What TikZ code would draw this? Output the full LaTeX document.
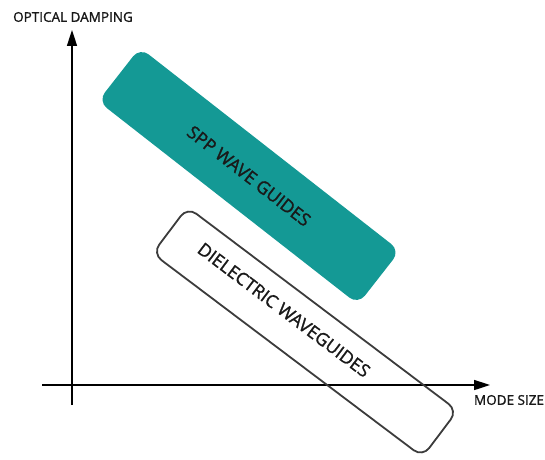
\documentclass[tikz,border=0pt]{standalone}
\usepackage{fontspec}
\setmainfont{Open Sans}
\newfontfamily\labelfont{Open Sans}[FakeBold=1.3]
\usetikzlibrary{arrows.meta}
\definecolor{sppteal}{RGB}{20,153,149}
\definecolor{boxgray}{RGB}{60,60,60}

\begin{document}
\begin{tikzpicture}[x=1pt, y=1pt,
            guide/.style={rectangle, rounded corners=11pt, inner sep=0pt, text=black!90},
            spp/.style={guide, fill=sppteal, minimum width=330pt, minimum height=68pt, rotate=-38},
            diel/.style={guide, draw=boxgray, line width=1.8pt, minimum width=338pt, minimum height=58pt, rotate=-37},
            axis/.style={line width=1.6pt, -{Triangle[length=16pt, width=10pt]}},
            axlabel/.style={text=black!90, font=\labelfont\fontsize{13.5}{15}\selectfont},
            guidelabel/.style={font=\labelfont\fontsize{17.8}{20}\selectfont}
        ]
            \useasboundingbox (0,0) rectangle (545,459);

            % Axes
            \coordinate (ybot) at (72,54);
            \coordinate (ytop) at (72,429);
            \coordinate (xleft) at (42,74);
            \coordinate (xright) at (490,74);
            \draw[axis] (ybot) -- (ytop);
            \draw[axis] (xleft) -- (xright);
            \node[axlabel] (ylabel) at (73,442) {OPTICAL DAMPING};
            \node[axlabel] (xlabel) at (509,59) {MODE SIZE};

            % Wave guides
            \node[spp, guidelabel] (sppbox) at (249,283) {SPP WAVE GUIDES};
            \node[diel] (dielbox) at (305,127) {};
            \node[guidelabel, text=black!90, rotate=-37] (diellabel) at (284,149) {DIELECTRIC WAVEGUIDES};
        \end{tikzpicture}
\end{document}
